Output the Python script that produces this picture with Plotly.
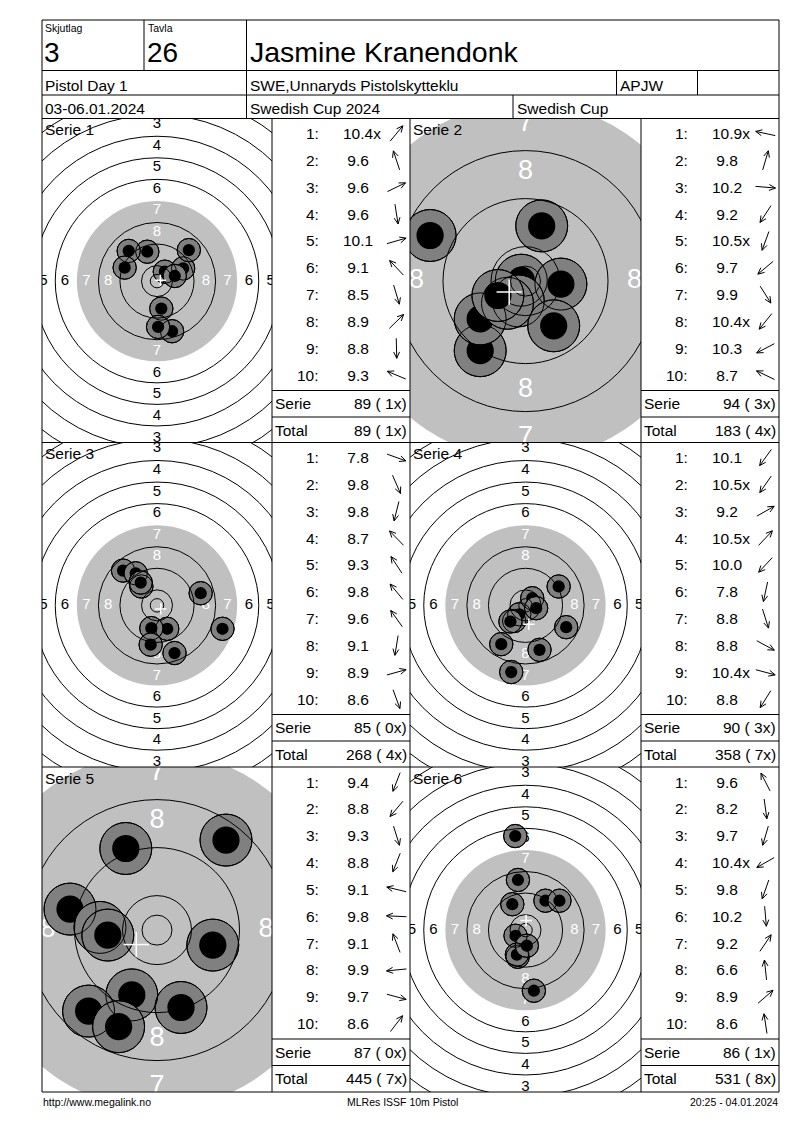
"""
MLRes result sheet - 10m pistol, six series with target pictures and score tables
"""
import math
import plotly.graph_objects as go

PAGE_W, PAGE_H = 800, 1130
OFF = 8  # the page body keeps its default 8px margin
W, H = PAGE_W - 2 * OFF, PAGE_H - 2 * OFF
FONT = "Liberation Sans, Arial, sans-serif"
NBSP = "\u00a0"

# header texts
relay = "3"
target_no = "26"
shooter = "Jasmine Kranendonk"
event = "Pistol Day 1"
club = "SWE,Unnaryds Pistolskytteklu"
class_code = "APJW"
dates = "03-06.01.2024"
competition = "Swedish Cup 2024"
cup = "Swedish Cup"
footer_left = "http://www.megalink.no"
footer_mid = "MLRes ISSF 10m Pistol"
footer_right = "20:25 - 04.01.2024"

series_names = ["Serie 1", "Serie 2", "Serie 3", "Serie 4", "Serie 5", "Serie 6"]
ring_numbers = [1, 2, 3, 4, 5, 6, 7, 8]

# shot scores and hit positions (mm from centre, y up)
s1_scores = ["10.4x", "9.6", "9.6", "9.6", "10.1", "9.1", "8.5", "8.9", "8.8", "9.3"]
s1_x = [2.9, -3.6, 9.7, 1.6, 6.6, -10.5, 5.6, 11.8, 0.4, -12.0]
s1_y = [3.5, 10.9, 4.7, -10.2, 1.9, 11.2, -18.6, 11.5, -17.0, 5.0]

s2_scores = ["10.9x", "9.8", "10.2", "9.2", "10.5x", "9.7", "9.9", "10.4x", "10.3", "8.7"]
s2_x = [-0.7, 2.7, 5.9, -7.55, -1.2, -7.55, 4.7, -3.0, -4.6, -15.9]
s2_y = [0.15, 9.2, -0.5, -11.6, -3.3, -6.3, -7.45, -3.7, -2.4, 7.6]

s3_scores = ["7.8", "9.8", "9.8", "8.7", "9.3", "9.8", "9.6", "9.1", "8.9", "8.6"]
s3_x = [24.3, 3.8, -2.1, -12.6, -7.9, -5.8, -6.05, -2.35, 16.2, 6.5]
s3_y = [-8.7, -8.7, -8.46, 12.9, 11.9, 7.0, 8.46, -14.6, 4.5, -17.7]

s4_scores = ["10.1", "10.5x", "9.2", "10.5x", "10.0", "7.8", "8.8", "8.8", "10.4x", "8.8"]
s4_x = [-4.2, -2.3, 12.3, 2.5, -5.6, -5.3, 5.2, 15.1, 3.95, -9.0]
s4_y = [-5.8, -3.3, 7.0, 2.65, -6.0, -24.75, -16.5, -8.1, -1.05, -14.4]

s5_scores = ["9.4", "8.8", "9.3", "8.8", "9.1", "9.8", "9.1", "9.9", "9.7", "8.6"]
s5_x = [-4.2, -11.4, 4.0, -6.4, -14.5, -9.5, -5.2, -8.2, 9.3, 11.5]
s5_y = [-10.8, -13.5, -12.9, -16.1, 3.5, 0.45, 13.6, -0.83, -2.5, 15.0]

s6_scores = ["9.6", "8.2", "9.7", "10.4x", "9.8", "10.2", "9.2", "6.6", "8.9", "8.6"]
s6_x = [-4.9, 3.1, -2.9, -3.7, -3.2, 0.5, 7.4, -3.8, 12.6, -2.8]
s6_y = [9.6, -22.5, -9.9, -2.1, -9.1, -5.8, 10.9, 34.9, 10.9, 18.6]

series = [
    (s1_scores, s1_x, s1_y), (s2_scores, s2_x, s2_y), (s3_scores, s3_x, s3_y),
    (s4_scores, s4_x, s4_y), (s5_scores, s5_x, s5_y), (s6_scores, s6_x, s6_y),
]

# picture scale (px per mm) for each target - series 2 and 5 are zoomed in
px_per_mm = [2.695, 6.0, 2.695, 2.695, 6.0, 2.695]

# ISSF 10m air pistol target (mm)
R10, STEP, INNER = 5.75, 8.0, 2.5
PELLET_R, MARK_R = 2.27, 4.33
LABEL_IN = 3.6  # ring numbers sit this far inside their ring line

# sheet geometry (page px)
target_cols = [(42, 272), (410, 641)]
table_cols = [(272, 410), (641, 779)]
row_tops = [118.5, 442.5, 767, 1092]


def px(x):
    return (x - OFF) / W


def py(y):
    return 1 - (y - OFF) / H


shapes = []
annotations = []


def line(x0, y0, x1, y1):
    shapes.append(dict(type="line", xref="paper", yref="paper",
                       x0=px(x0), y0=py(y0), x1=px(x1), y1=py(y1),
                       line=dict(color="black", width=1)))


def text(x, y, s, size, anchor="left"):
    annotations.append(dict(xref="paper", yref="paper", x=px(x), y=py(y), text=s,
                            showarrow=False, xanchor=anchor, yanchor="middle",
                            borderpad=0, font=dict(family=FONT, size=size, color="black")))


def ring_r(r):
    return R10 + STEP * (10 - r)


def circle(xr, yr, cx, cy, r, fill, lw, layer="above"):
    shapes.append(dict(type="circle", xref=xr, yref=yr, layer=layer,
                       x0=cx - r, x1=cx + r, y0=cy - r, y1=cy + r,
                       fillcolor=fill, line=dict(color="black", width=lw)))


def arrow_path(cx, cy, dx, dy, length=20, head=7, spread=25):
    ang = math.atan2(dy, dx)
    ux, uy = math.cos(ang), -math.sin(ang)
    hx, hy = cx + ux * length / 2, cy + uy * length / 2
    tx, ty = cx - ux * length / 2, cy - uy * length / 2
    pts = []
    for s in (spread, -spread):
        a = math.radians(s)
        bx, by = -ux, -uy
        pts.append((hx + head * (bx * math.cos(a) - by * math.sin(a)),
                    hy + head * (bx * math.sin(a) + by * math.cos(a))))
    return (f"M{px(tx)},{py(ty)} L{px(hx)},{py(hy)} "
            f"M{px(pts[0][0])},{py(pts[0][1])} L{px(hx)},{py(hy)} L{px(pts[1][0])},{py(pts[1][1])}")


fig = go.Figure()
layout_axes = {}
total = 0
total_x = 0

for i, (scores, xs, ys) in enumerate(series):
    r, c = divmod(i, 2)
    n = i + 1
    xid = "x" if n == 1 else f"x{n}"
    yid = "y" if n == 1 else f"y{n}"
    s = px_per_mm[i]
    tx0, tx1 = target_cols[c]
    ty0, ty1 = row_tops[r], row_tops[r + 1]
    cx, cy = (tx0 + tx1) / 2, (ty0 + ty1) / 2 + 0.6
    half_w, half_h = (tx1 - tx0) / 2, (ty1 - ty0) / 2

    layout_axes["xaxis" if n == 1 else f"xaxis{n}"] = dict(
        domain=[px(tx0), px(tx1)], range=[-(cx - tx0) / s, (tx1 - cx) / s],
        visible=False, fixedrange=True, anchor=yid)
    layout_axes["yaxis" if n == 1 else f"yaxis{n}"] = dict(
        domain=[py(ty1), py(ty0)], range=[-(ty1 - cy) / s, (cy - ty0) / s],
        visible=False, fixedrange=True, anchor=xid)

    # black aiming mark (drawn grey on the sheet)
    circle(xid, yid, 0, 0, ring_r(7), "#c0c0c0", 0, layer="below")

    # ring numbers, only those that reach into the picture
    fsize = 15 if s < 4 else 27
    lx, ly, lt, lc = [], [], [], []
    for num in ring_numbers:
        d = ring_r(num) - LABEL_IN
        for ux, uy in [(0, 1), (0, -1), (1, 0), (-1, 0)]:
            if abs(ux) * d * s > half_w + 0.4 * fsize or abs(uy) * d * s > half_h + 0.4 * fsize:
                continue
            lx.append(ux * d)
            ly.append(uy * d)
            lt.append(str(num))
            lc.append("white" if num >= 7 else "black")
    fig.add_trace(go.Scatter(
        x=lx, y=ly, text=lt, mode="text", xaxis=xid, yaxis=yid, cliponaxis=True,
        textfont=dict(family=FONT, size=fsize, color=lc),
        hoverinfo="skip", showlegend=False))

    # hits
    for hx, hy in zip(xs, ys):
        circle(xid, yid, hx, hy, MARK_R, "#808080", 1)
        circle(xid, yid, hx, hy, PELLET_R, "black", 0)

    # ring lines
    for num in [1, 2, 3, 4, 5, 6, 8, 9, 10]:
        circle(xid, yid, 0, 0, ring_r(num), "rgba(0,0,0,0)", 1)
    circle(xid, yid, 0, 0, INNER, "rgba(0,0,0,0)", 1)
    for hx, hy in zip(xs, ys):
        circle(xid, yid, hx, hy, MARK_R, "rgba(0,0,0,0)", 1)

    # mean point of impact
    mx, my = sum(xs) / len(xs), sum(ys) / len(ys)
    for ax0, ay0, ax1, ay1 in [(mx - 2.1, my, mx + 2.1, my), (mx, my - 2.1, mx, my + 2.1)]:
        shapes.append(dict(type="line", xref=xid, yref=yid, x0=ax0, y0=ay0, x1=ax1, y1=ay1,
                           line=dict(color="white", width=1.5)))

    text(tx0 + 2, ty0 + 11, series_names[i], 15.5)

    # score table
    bx0, bx1 = table_cols[c]
    serie_sum = 0
    serie_x = 0
    for k, sc in enumerate(scores):
        val = float(sc.rstrip("x"))
        serie_sum += int(val)
        serie_x += sc.endswith("x")
        yy = ty0 + 15 + 26.85 * k
        text(bx0 + 47.5, yy, f"{k + 1}:", 15.5, "right")
        text(bx0 + 69.7, yy, sc if val >= 10 else NBSP + sc, 15.5)
        shapes.append(dict(type="path", xref="paper", yref="paper",
                           path=arrow_path(bx0 + 124.5, yy, xs[k], ys[k]),
                           line=dict(color="black", width=1)))
    total += serie_sum
    total_x += serie_x
    line(bx0, ty0 + 272, bx1, ty0 + 272)
    line(bx0, ty0 + 298.5, bx1, ty0 + 298.5)
    text(bx0 + 2, ty0 + 285, "Serie", 15.5)
    text(bx1 - 2, ty0 + 285, f"{serie_sum} ({NBSP}{serie_x}x)", 15.5, "right")
    text(bx0 + 2, ty0 + 311.5, "Total", 15.5)
    text(bx1 - 2, ty0 + 311.5, f"{total} ({NBSP}{total_x}x)", 15.5, "right")

# header block
text(44, 28, "Skjutlag", 10.5)
text(146.5, 28, "Tavla", 10.5)
text(43, 52.5, relay, 28)
text(145.5, 52.5, target_no, 28)
text(248.5, 52, shooter, 28.5)
text(44, 85.5, event, 15.5)
text(248.5, 85.5, club, 15.5)
text(618.5, 85.5, class_code, 15.5)
text(44, 108.5, dates, 15.5)
text(248.5, 108.5, competition, 15.5)
text(515.5, 108.5, cup, 15.5)

# footer
text(42, 1102, footer_left, 10.5)
text(402, 1102, footer_mid, 10.5, "center")
text(779, 1102, footer_right, 10.5, "right")

# grid lines of the sheet
for yy in [20, 70.5, 95, 118.5, 442.5, 767, 1092]:
    line(42, yy, 779, yy)
line(42, 20, 42, 1092)
line(779, 20, 779, 1092)
line(144, 20, 144, 70.5)
line(246.5, 20, 246.5, 118.5)
line(616.5, 70.5, 616.5, 95)
line(697.5, 70.5, 697.5, 95)
line(513, 95, 513, 118.5)
for xx in [272, 410, 641]:
    line(xx, 118.5, xx, 1092)

fig.update_layout(
    width=W, height=H,
    margin=dict(l=0, r=0, t=0, b=0),
    paper_bgcolor="white", plot_bgcolor="white",
    showlegend=False,
    shapes=shapes,
    annotations=annotations,
    **layout_axes,
)

fig.write_html("out.html")
